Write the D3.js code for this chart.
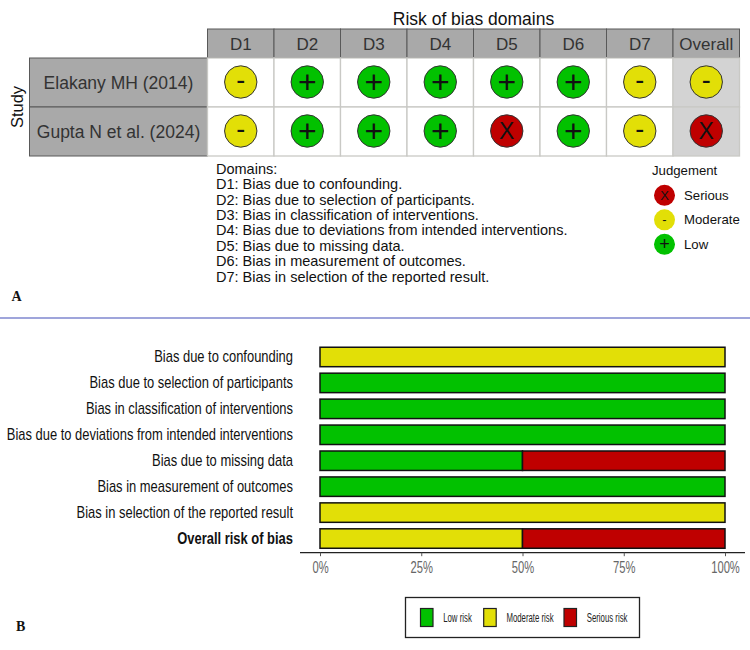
<!DOCTYPE html>
<html>
<head>
<meta charset="utf-8">
<script src="https://d3js.org/d3.v7.min.js"></script>
<style>
  html, body { margin: 0; padding: 0; background: #fff; }
  svg { display: block; }
  text { font-family: "Liberation Sans", Arial, sans-serif; }
</style>
</head>
<body>
<div id="plot"></div>
<script>
// traffic light table
const studies = ["Elakany MH (2014)", "Gupta N et al. (2024)"];
const domains = ["D1", "D2", "D3", "D4", "D5", "D6", "D7", "Overall"];
const elakany = ["Moderate", "Low", "Low", "Low", "Low", "Low", "Moderate", "Moderate"];
const gupta = ["Moderate", "Low", "Low", "Low", "Serious", "Low", "Moderate", "Serious"];
const domainNotes = [
  "Domains:",
  "D1: Bias due to confounding.",
  "D2: Bias due to selection of participants.",
  "D3: Bias in classification of interventions.",
  "D4: Bias due to deviations from intended interventions.",
  "D5: Bias due to missing data.",
  "D6: Bias in measurement of outcomes.",
  "D7: Bias in selection of the reported result."
];
const judgements = ["Serious", "Moderate", "Low"];
const symbols = ["X", "-", "+"];

// summary bars
const biasLabels = [
  "Bias due to confounding",
  "Bias due to selection of participants",
  "Bias in classification of interventions",
  "Bias due to deviations from intended interventions",
  "Bias due to missing data",
  "Bias in measurement of outcomes",
  "Bias in selection of the reported result",
  "Overall risk of bias"
];
const lowRisk = [0, 100, 100, 100, 50, 100, 0, 0];
const moderateRisk = [100, 0, 0, 0, 0, 0, 100, 50];
const seriousRisk = [0, 0, 0, 0, 50, 0, 0, 50];
const riskNames = ["Low risk", "Moderate risk", "Serious risk"];
const xTicks = [0, 25, 50, 75, 100];

const w = 750;
const h = 650;

const green = "#02C100";
const yellow = "#E2DF07";
const red = "#BF0000";

const svg = d3.select("div#plot")
  .append("svg")
  .attr("width", w)
  .attr("height", h);

// panel B text is condensed in the reference, no narrow font here so squeeze it
function squeeze(sel, factor) {
  sel.each(function () {
    const len = this.getComputedTextLength();
    d3.select(this)
      .attr("textLength", len * factor)
      .attr("lengthAdjust", "spacingAndGlyphs");
  });
}

// ---- panel A
const colScale = d3.scaleBand().domain(domains).range([207.5, 739.5]);
const rowScale = d3.scaleBand().domain(studies).range([58, 156]);
const judgeColor = d3.scaleOrdinal().domain(judgements).range([red, yellow, green]);
const judgeSymbol = d3.scaleOrdinal().domain(judgements).range(symbols);

const rows = [elakany, gupta];

svg.append("text")
  .attr("x", 473.5)
  .attr("y", 24.5)
  .attr("text-anchor", "middle")
  .attr("font-size", 17.5)
  .attr("fill", "#111")
  .text("Risk of bias domains");

svg.append("text")
  .attr("transform", "translate(22.5,107) rotate(-90)")
  .attr("text-anchor", "middle")
  .attr("font-size", 16.5)
  .attr("fill", "#111")
  .text("Study");

// domain headers
svg.selectAll(".head")
  .data(domains)
  .enter()
  .append("rect")
  .attr("class", "head")
  .attr("x", d => colScale(d))
  .attr("y", 29)
  .attr("width", colScale.bandwidth())
  .attr("height", 29)
  .attr("fill", "#A9A9A9")
  .attr("stroke", "#595959")
  .attr("stroke-width", 1);

svg.selectAll(".head-label")
  .data(domains)
  .enter()
  .append("text")
  .attr("class", "head-label")
  .attr("x", d => colScale(d) + colScale.bandwidth() / 2)
  .attr("y", 49.5)
  .attr("text-anchor", "middle")
  .attr("font-size", 17)
  .attr("fill", "#333")
  .text(d => d);

// study row labels
svg.selectAll(".study")
  .data(studies)
  .enter()
  .append("rect")
  .attr("class", "study")
  .attr("x", 29.5)
  .attr("y", d => rowScale(d))
  .attr("width", 178)
  .attr("height", rowScale.bandwidth())
  .attr("fill", "#A9A9A9")
  .attr("stroke", "#595959")
  .attr("stroke-width", 1);

svg.selectAll(".study-label")
  .data(studies)
  .enter()
  .append("text")
  .attr("class", "study-label")
  .attr("x", 118.5)
  .attr("y", d => rowScale(d) + rowScale.bandwidth() / 2 + 6)
  .attr("text-anchor", "middle")
  .attr("font-size", 17.5)
  .attr("fill", "#333")
  .text(d => d);

// cells
const symbolSize = { Low: 32, Moderate: 27, Serious: 23 };
const symbolDy = { Low: 10.5, Moderate: 7.3, Serious: 8.2 };

rows.forEach((row, i) => {
  const g = svg.append("g").attr("class", "row");
  const y0 = rowScale(studies[i]);
  const cell = g.selectAll("g")
    .data(row.map((v, j) => ({ v, col: domains[j] })))
    .enter()
    .append("g")
    .attr("transform", d => `translate(${colScale(d.col)},${y0})`);

  cell.append("rect")
    .attr("width", colScale.bandwidth())
    .attr("height", rowScale.bandwidth())
    .attr("fill", d => d.col === "Overall" ? "#D3D3D3" : "#fff")
    .attr("stroke", "#C9C9C5")
    .attr("stroke-width", 1.3);

  cell.append("circle")
    .attr("cx", colScale.bandwidth() / 2)
    .attr("cy", rowScale.bandwidth() / 2 - 0.5)
    .attr("r", 16.2)
    .attr("fill", d => judgeColor(d.v))
    .attr("stroke", "#333")
    .attr("stroke-width", 1);

  cell.append("text")
    .attr("x", colScale.bandwidth() / 2)
    .attr("y", rowScale.bandwidth() / 2 - 0.5)
    .attr("dy", d => symbolDy[d.v])
    .attr("text-anchor", "middle")
    .attr("font-size", d => symbolSize[d.v])
    .attr("fill", "#111")
    .text(d => judgeSymbol(d.v));
});

// domain list
svg.append("g")
  .selectAll("text")
  .data(domainNotes)
  .enter()
  .append("text")
  .attr("x", 216)
  .attr("y", (d, i) => 173.7 + i * 15.4)
  .attr("font-size", 14.5)
  .attr("fill", "#111")
  .text(d => d);

// judgement legend
const judgeY = d3.scalePoint().domain(judgements).range([195.3, 244.3]);

svg.append("text")
  .attr("x", 652)
  .attr("y", 175)
  .attr("font-size", 13.2)
  .attr("fill", "#111")
  .text("Judgement");

const judgeItem = svg.append("g").selectAll("g")
  .data(judgements)
  .enter()
  .append("g")
  .attr("transform", d => `translate(664.5,${judgeY(d)})`);

judgeItem.append("circle")
  .attr("r", 10.5)
  .attr("fill", d => judgeColor(d));

judgeItem.append("text")
  .attr("y", d => d === "Low" ? 6 : 4.5)
  .attr("text-anchor", "middle")
  .attr("font-size", d => d === "Low" ? 18 : 13)
  .attr("fill", "#111")
  .text(d => judgeSymbol(d));

judgeItem.append("text")
  .attr("x", 19.5)
  .attr("y", 4.5)
  .attr("font-size", 13.2)
  .attr("fill", "#111")
  .text(d => d);

svg.append("text")
  .attr("x", 11.5)
  .attr("y", 300.7)
  .style("font-family", "Liberation Serif")
  .attr("font-weight", "bold")
  .attr("font-size", 14)
  .attr("fill", "#111")
  .text("A");

// divider
svg.append("line")
  .attr("x1", 0)
  .attr("x2", w)
  .attr("y1", 318)
  .attr("y2", 318)
  .attr("stroke", "#9FA5DB")
  .attr("stroke-width", 1.8);

// ---- panel B
const xScale = d3.scaleLinear().domain([0, 100]).range([320, 725]);
const yScale = d3.scaleBand().domain(biasLabels).range([344, 551.5]).paddingInner(0.25).paddingOuter(0.125);

const stack = d3.stack().keys(riskNames);
const table = biasLabels.map((label, i) => ({
  label,
  "Low risk": lowRisk[i],
  "Moderate risk": moderateRisk[i],
  "Serious risk": seriousRisk[i]
}));
const riskColor = d3.scaleOrdinal().domain(riskNames).range([green, yellow, red]);

svg.selectAll(".series")
  .data(stack(table))
  .enter()
  .append("g")
  .attr("class", "series")
  .attr("fill", d => riskColor(d.key))
  .selectAll("rect")
  .data(d => d.filter(p => p[1] > p[0]))
  .enter()
  .append("rect")
  .attr("x", d => xScale(d[0]))
  .attr("y", d => yScale(d.data.label))
  .attr("width", d => xScale(d[1]) - xScale(d[0]))
  .attr("height", yScale.bandwidth())
  .attr("stroke", "#111")
  .attr("stroke-width", 1.5);

const yAxis = d3.axisLeft(yScale).tickSize(0).tickPadding(0);
const yAxisGroup = svg.append("g")
  .attr("transform", "translate(293,0)")
  .call(yAxis);
yAxisGroup.select(".domain").remove();
yAxisGroup.selectAll("text")
  .attr("fill", "#111")
  .style("font-size", "17px")
  .style("font-weight", d => d === "Overall risk of bias" ? "bold" : "normal")
  .call(squeeze, 0.761);

const xAxis = d3.axisBottom(xScale)
  .tickValues(xTicks)
  .tickFormat(d => d + "%")
  .tickSize(3.5)
  .tickPadding(5.5)
  .tickSizeOuter(0);
const xAxisGroup = svg.append("g")
  .attr("transform", "translate(0,552.7)")
  .call(xAxis);
xAxisGroup.select(".domain")
  .attr("d", "M300,0H745")
  .attr("stroke", "#222")
  .attr("stroke-width", 1.3);
xAxisGroup.selectAll("line").attr("stroke", "#555");
xAxisGroup.selectAll("text")
  .style("font-size", "16px")
  .attr("fill", "#666")
  .call(squeeze, 0.7);

// risk legend
svg.append("rect")
  .attr("x", 405.5)
  .attr("y", 597.5)
  .attr("width", 234)
  .attr("height", 40)
  .attr("fill", "#fff")
  .attr("stroke", "#222")
  .attr("stroke-width", 1.3);

const legendX = d3.scaleOrdinal().domain(riskNames).range([420.5, 483.7, 564]);

const legendItem = svg.append("g").selectAll("g")
  .data(riskNames)
  .enter()
  .append("g")
  .attr("transform", d => `translate(${legendX(d)},0)`);

legendItem.append("rect")
  .attr("y", 608.5)
  .attr("width", 12.5)
  .attr("height", 18)
  .attr("fill", d => riskColor(d))
  .attr("stroke", "#222")
  .attr("stroke-width", 1.2);

legendItem.append("text")
  .attr("x", 22.7)
  .attr("y", 621.7)
  .attr("font-size", 12)
  .attr("fill", "#222")
  .text(d => d)
  .call(squeeze, 0.65);

svg.append("text")
  .attr("x", 16)
  .attr("y", 631)
  .style("font-family", "Liberation Serif")
  .attr("font-weight", "bold")
  .attr("font-size", 14)
  .attr("fill", "#111")
  .text("B");
</script>
</body>
</html>
